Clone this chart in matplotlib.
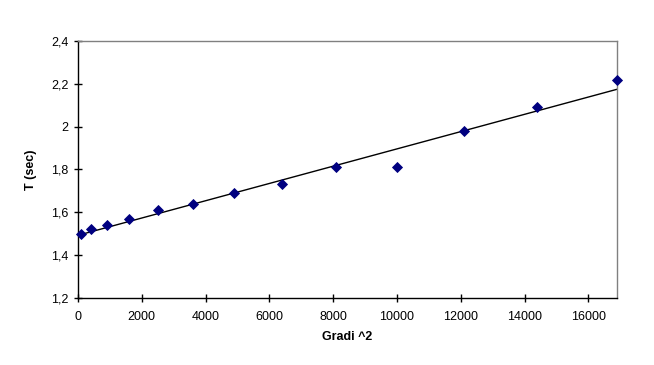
import numpy as np
import matplotlib
matplotlib.use("Agg")
import matplotlib.pyplot as plt
from matplotlib.ticker import FixedLocator, FuncFormatter

angles = [10, 20, 30, 40, 50, 60, 70, 80, 90, 100, 110, 120, 130]
gradi_sq = [a * a for a in angles]
t_sec = [1.50, 1.52, 1.54, 1.57, 1.61, 1.64, 1.69, 1.73, 1.81, 1.81, 1.98, 2.09, 2.22]
x_ticks = [0, 2000, 4000, 6000, 8000, 10000, 12000, 14000, 16000]
y_ticks = [1.2, 1.4, 1.6, 1.8, 2.0, 2.2, 2.4]

plt.rcParams['font.family'] = ['Liberation Sans', 'DejaVu Sans']

fig = plt.figure(figsize=(6.54, 3.65), dpi=100)
ax = fig.add_axes([78/654, 67/365, (617-78)/654, (298-41)/365])

coef = np.polyfit(gradi_sq, t_sec, 1)
xs = np.array([0, 16900])
ax.plot(xs, np.polyval(coef, xs), color='black', lw=1.0, zorder=2)
ax.plot(gradi_sq, t_sec, linestyle='none', marker='D', markersize=4.9,
        markeredgewidth=0.6,
        color='#000080', markeredgecolor='#000080', zorder=3, clip_on=False)

ax.set_xlim(0, 16900)
ax.set_ylim(1.2, 2.4)
ax.xaxis.set_major_locator(FixedLocator(x_ticks))
ax.yaxis.set_major_locator(FixedLocator(y_ticks))
ax.yaxis.set_major_formatter(FuncFormatter(lambda v, p: ('%g' % round(v, 1)).replace('.', ',')))
ax.tick_params(direction='inout', length=6, width=1, labelsize=9, colors='black')
ax.tick_params(axis='x', pad=6)
ax.tick_params(axis='y', pad=4)

for s in ['left', 'bottom']:
    ax.spines[s].set_color('black')
    ax.spines[s].set_linewidth(1.0)
for s in ['top', 'right']:
    ax.spines[s].set_color('#808080')
    ax.spines[s].set_linewidth(1.0)

ax.set_xlabel('Gradi ^2', fontsize=9, fontweight='bold', labelpad=6)
ax.set_ylabel('T (sec)', fontsize=9, fontweight='bold', labelpad=10)

fig.savefig('out.png', dpi=100)
